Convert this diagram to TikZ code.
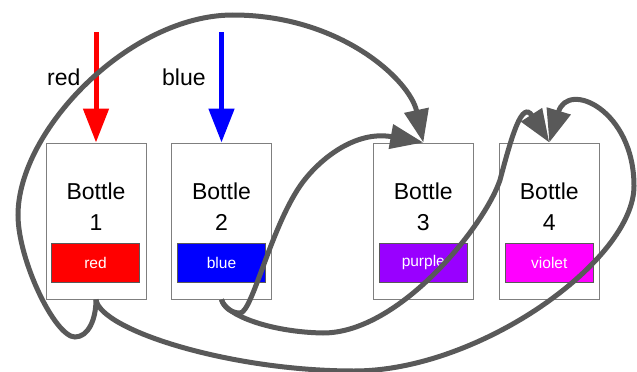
\documentclass[tikz,border=0pt]{standalone}
\usepackage{fontspec}
\setmainfont{Liberation Sans}
\usetikzlibrary{arrows.meta}
\definecolor{cgray}{HTML}{595959}
\definecolor{bordergray}{HTML}{7F7F7F}
\definecolor{cpurple}{HTML}{9900FF}
\definecolor{cviolet}{HTML}{FF00FF}
\begin{document}
\begin{tikzpicture}[x=1pt,y=-1pt,
  bottlebox/.style={draw=bordergray,line width=1pt,minimum width=100pt,minimum height=156pt,inner sep=0},
  chip/.style={draw=cgray,line width=1pt,minimum width=88pt,minimum height=39pt,inner sep=0,text=white,font=\fontsize{15.5}{18}\selectfont},
  title/.style={align=center,font=\fontsize{23}{31}\selectfont,inner sep=0},
  conn/.style={draw=cgray,line width=5pt,-{Triangle[length=33pt,width=24pt]}},
  feed/.style={line width=5pt,-{Triangle[length=34pt,width=25pt]}},
  lbl/.style={font=\fontsize{23}{26}\selectfont,inner sep=0,anchor=base west}]
\useasboundingbox (0,0) rectangle (637,372);
% bottles
\node[bottlebox] (b1) at (96,221) {};
\node[bottlebox] (b2) at (221.5,221) {};
\node[bottlebox] (b3) at (423.3,221) {};
\node[bottlebox] (b4) at (549.3,221) {};
\node[title] (t1) at (96,206.5) {Bottle\\1};
\node[title] (t2) at (221.5,206.5) {Bottle\\2};
\node[title] (t3) at (423.3,206.5) {Bottle\\3};
\node[title] (t4) at (549.3,206.5) {Bottle\\4};
\node[chip,fill=red] (c1) at (95.5,262.7) {red};
\node[chip,fill=blue] (c2) at (221.5,262.7) {blue};
\node[chip,fill=cpurple] (c3) at (423.3,262.7) {purple};
\node[chip,fill=cviolet] (c4) at (549.3,262.7) {violet};
% inputs
\node[lbl] (lr) at (47,85) {red};
\node[lbl] (lb) at (162,85) {blue};
\coordinate (rs) at (96,32);
\coordinate (bs) at (221.5,32);
\draw[feed,red] (rs) -- (b1.north);
\draw[feed,blue] (bs) -- (b2.north);
% connectors
\draw[conn] (b1.south) .. controls (96,320) and (88,337) .. (75,337)
  .. controls (55,337) and (18,260) .. (18,215)
  .. controls (18,130) and (130,15) .. (233,15)
  .. controls (340,15) and (410,80) .. (b3.north);
\draw[conn] (b1.south) .. controls (100,330) and (230,371) .. (354,371)
  .. controls (480,371) and (634,260) .. (634,186)
  .. controls (634,110) and (568,80) .. (b4.north);
\draw[conn] (b2.south) .. controls (224,308) and (232,313) .. (240,313)
  .. controls (252,313) and (270,230) .. (300,186)
  .. controls (318,160) and (355,130) .. (b3.north);
\draw[conn] (b2.south) .. controls (225,315) and (270,332) .. (323,333)
  .. controls (400,333) and (485,225) .. (500,180)
  .. controls (512,135) and (522,100) .. (b4.north);
\end{tikzpicture}
\end{document}
